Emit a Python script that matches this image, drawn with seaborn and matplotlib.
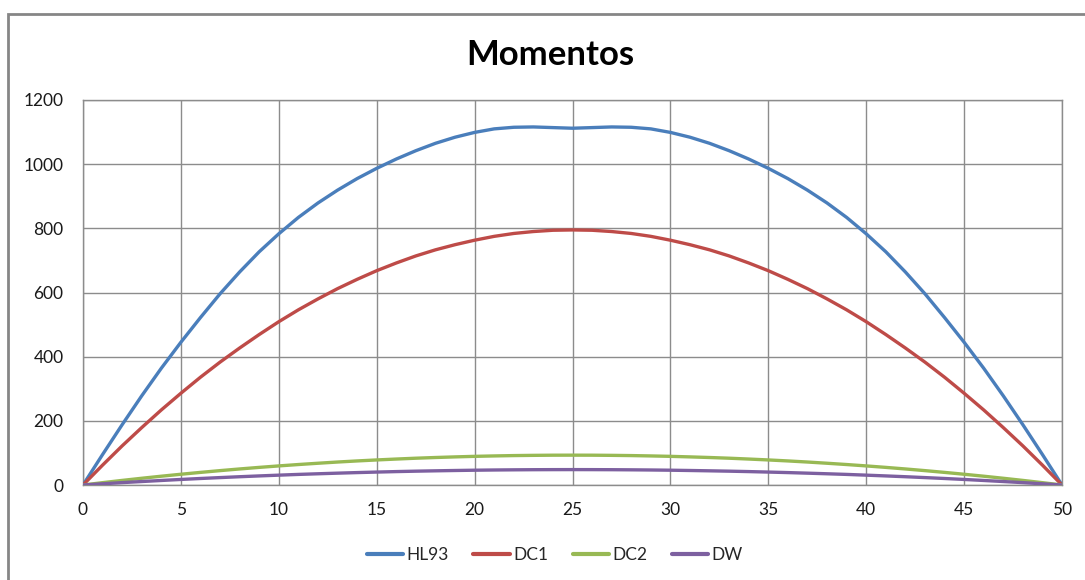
import matplotlib
matplotlib.use("Agg")
import matplotlib.pyplot as plt
import seaborn as sns
import pandas as pd
from matplotlib.patches import Rectangle

x_pos = list(range(0, 51))
hl93 = [0, 95, 188, 278, 364, 445, 522, 596, 664, 727,
        783, 834, 879, 919, 955, 987, 1016, 1042, 1065, 1084,
        1099, 1110, 1115, 1116, 1114, 1112, 1114, 1116, 1115, 1110,
        1099, 1084, 1065, 1042, 1016, 987, 955, 919, 879, 834,
        783, 727, 664, 596, 522, 445, 364, 278, 188, 95, 0]
dc1 = [0, 62, 122, 179, 234, 286, 336, 383, 427, 469,
       509, 546, 580, 612, 641, 668, 692, 714, 733, 749,
       763, 775, 784, 790, 794, 795, 794, 790, 784, 775,
       763, 749, 733, 714, 692, 668, 641, 612, 580, 546,
       509, 469, 427, 383, 336, 286, 234, 179, 122, 62, 0]
dc2 = [0, 7.3, 14.3, 21, 27.4, 33.5, 39.3, 44.8, 50, 54.9,
       59.5, 63.8, 67.8, 71.6, 75, 78.1, 80.9, 83.5, 85.7, 87.6,
       89.3, 90.6, 91.7, 92.4, 92.9, 93, 92.9, 92.4, 91.7, 90.6,
       89.3, 87.6, 85.7, 83.5, 80.9, 78.1, 75, 71.6, 67.8, 63.8,
       59.5, 54.9, 50, 44.8, 39.3, 33.5, 27.4, 21, 14.3, 7.3, 0]
dw = [0, 3.8, 7.4, 10.8, 14.1, 17.3, 20.3, 23.1, 25.8, 28.3,
      30.7, 33, 35, 36.9, 38.7, 40.3, 41.8, 43.1, 44.2, 45.2,
      46.1, 46.8, 47.3, 47.7, 47.9, 48, 47.9, 47.7, 47.3, 46.8,
      46.1, 45.2, 44.2, 43.1, 41.8, 40.3, 38.7, 36.9, 35, 33,
      30.7, 28.3, 25.8, 23.1, 20.3, 17.3, 14.1, 10.8, 7.4, 3.8, 0]
series_names = ["HL93", "DC1", "DC2", "DW"]
colors = ["#4A7EBB", "#BE4B48", "#98B954", "#7D60A0"]
x_ticks = list(range(0, 51, 5))
y_ticks = list(range(0, 1201, 200))

rows = []
for name, vals in zip(series_names, [hl93, dc1, dc2, dw]):
    for xv, yv in zip(x_pos, vals):
        rows.append({"x": xv, "y": yv, "serie": name})
df = pd.DataFrame(rows)

sns.set_theme(style="white")
plt.rcParams["font.family"] = ["Lato", "DejaVu Sans"]

fig = plt.figure(figsize=(10.85, 5.8), dpi=100)
ax = fig.add_axes([83/1085, 1-485/580, (1062-83)/1085, (485-100)/580])

sns.lineplot(data=df, x="x", y="y", hue="serie", hue_order=series_names,
             palette=colors, linewidth=2.4, ax=ax, sort=False,
             legend=True, zorder=3)
for ln in ax.get_lines():
    ln.set_solid_joinstyle("round")
    ln.set_solid_capstyle("round")

ax.set_xlim(0, 50)
ax.set_ylim(0, 1200)
ax.set_xticks(x_ticks)
ax.set_yticks(y_ticks)
ax.set_xticklabels([str(t) for t in x_ticks], fontsize=12.5, color="#1a1a1a")
ax.set_yticklabels([str(t) for t in y_ticks], fontsize=12.5, color="#1a1a1a")
ax.tick_params(axis="both", length=0)
ax.tick_params(axis="x", pad=12)
ax.tick_params(axis="y", pad=14)
ax.set_xlabel("")
ax.set_ylabel("")
ax.grid(True, color="#8c8c8c", linewidth=1.0)
ax.set_axisbelow(True)
for sp in ax.spines.values():
    sp.set_color("#8c8c8c")
    sp.set_linewidth(1.0)

fig.text(550/1085, 1-55/580, "Momentos", ha="center", va="center",
         fontsize=25, fontweight="bold", color="black")

handles, labels = ax.get_legend_handles_labels()
leg = ax.legend(handles, labels, loc="center", bbox_to_anchor=(0.482, -0.183),
                ncol=4, frameon=False, fontsize=12.5, handlelength=2.1,
                handletextpad=0.2, columnspacing=1.4)
for h in leg.get_lines():
    h.set_linewidth(3.0)
    h.set_solid_capstyle("round")

fig.patches.append(Rectangle((8/1085, -0.1), 1.2, 1 - 14/580 + 0.1,
                             transform=fig.transFigure, fill=False,
                             edgecolor="#868686", linewidth=2.0))

fig.savefig("out.png", dpi=100)
